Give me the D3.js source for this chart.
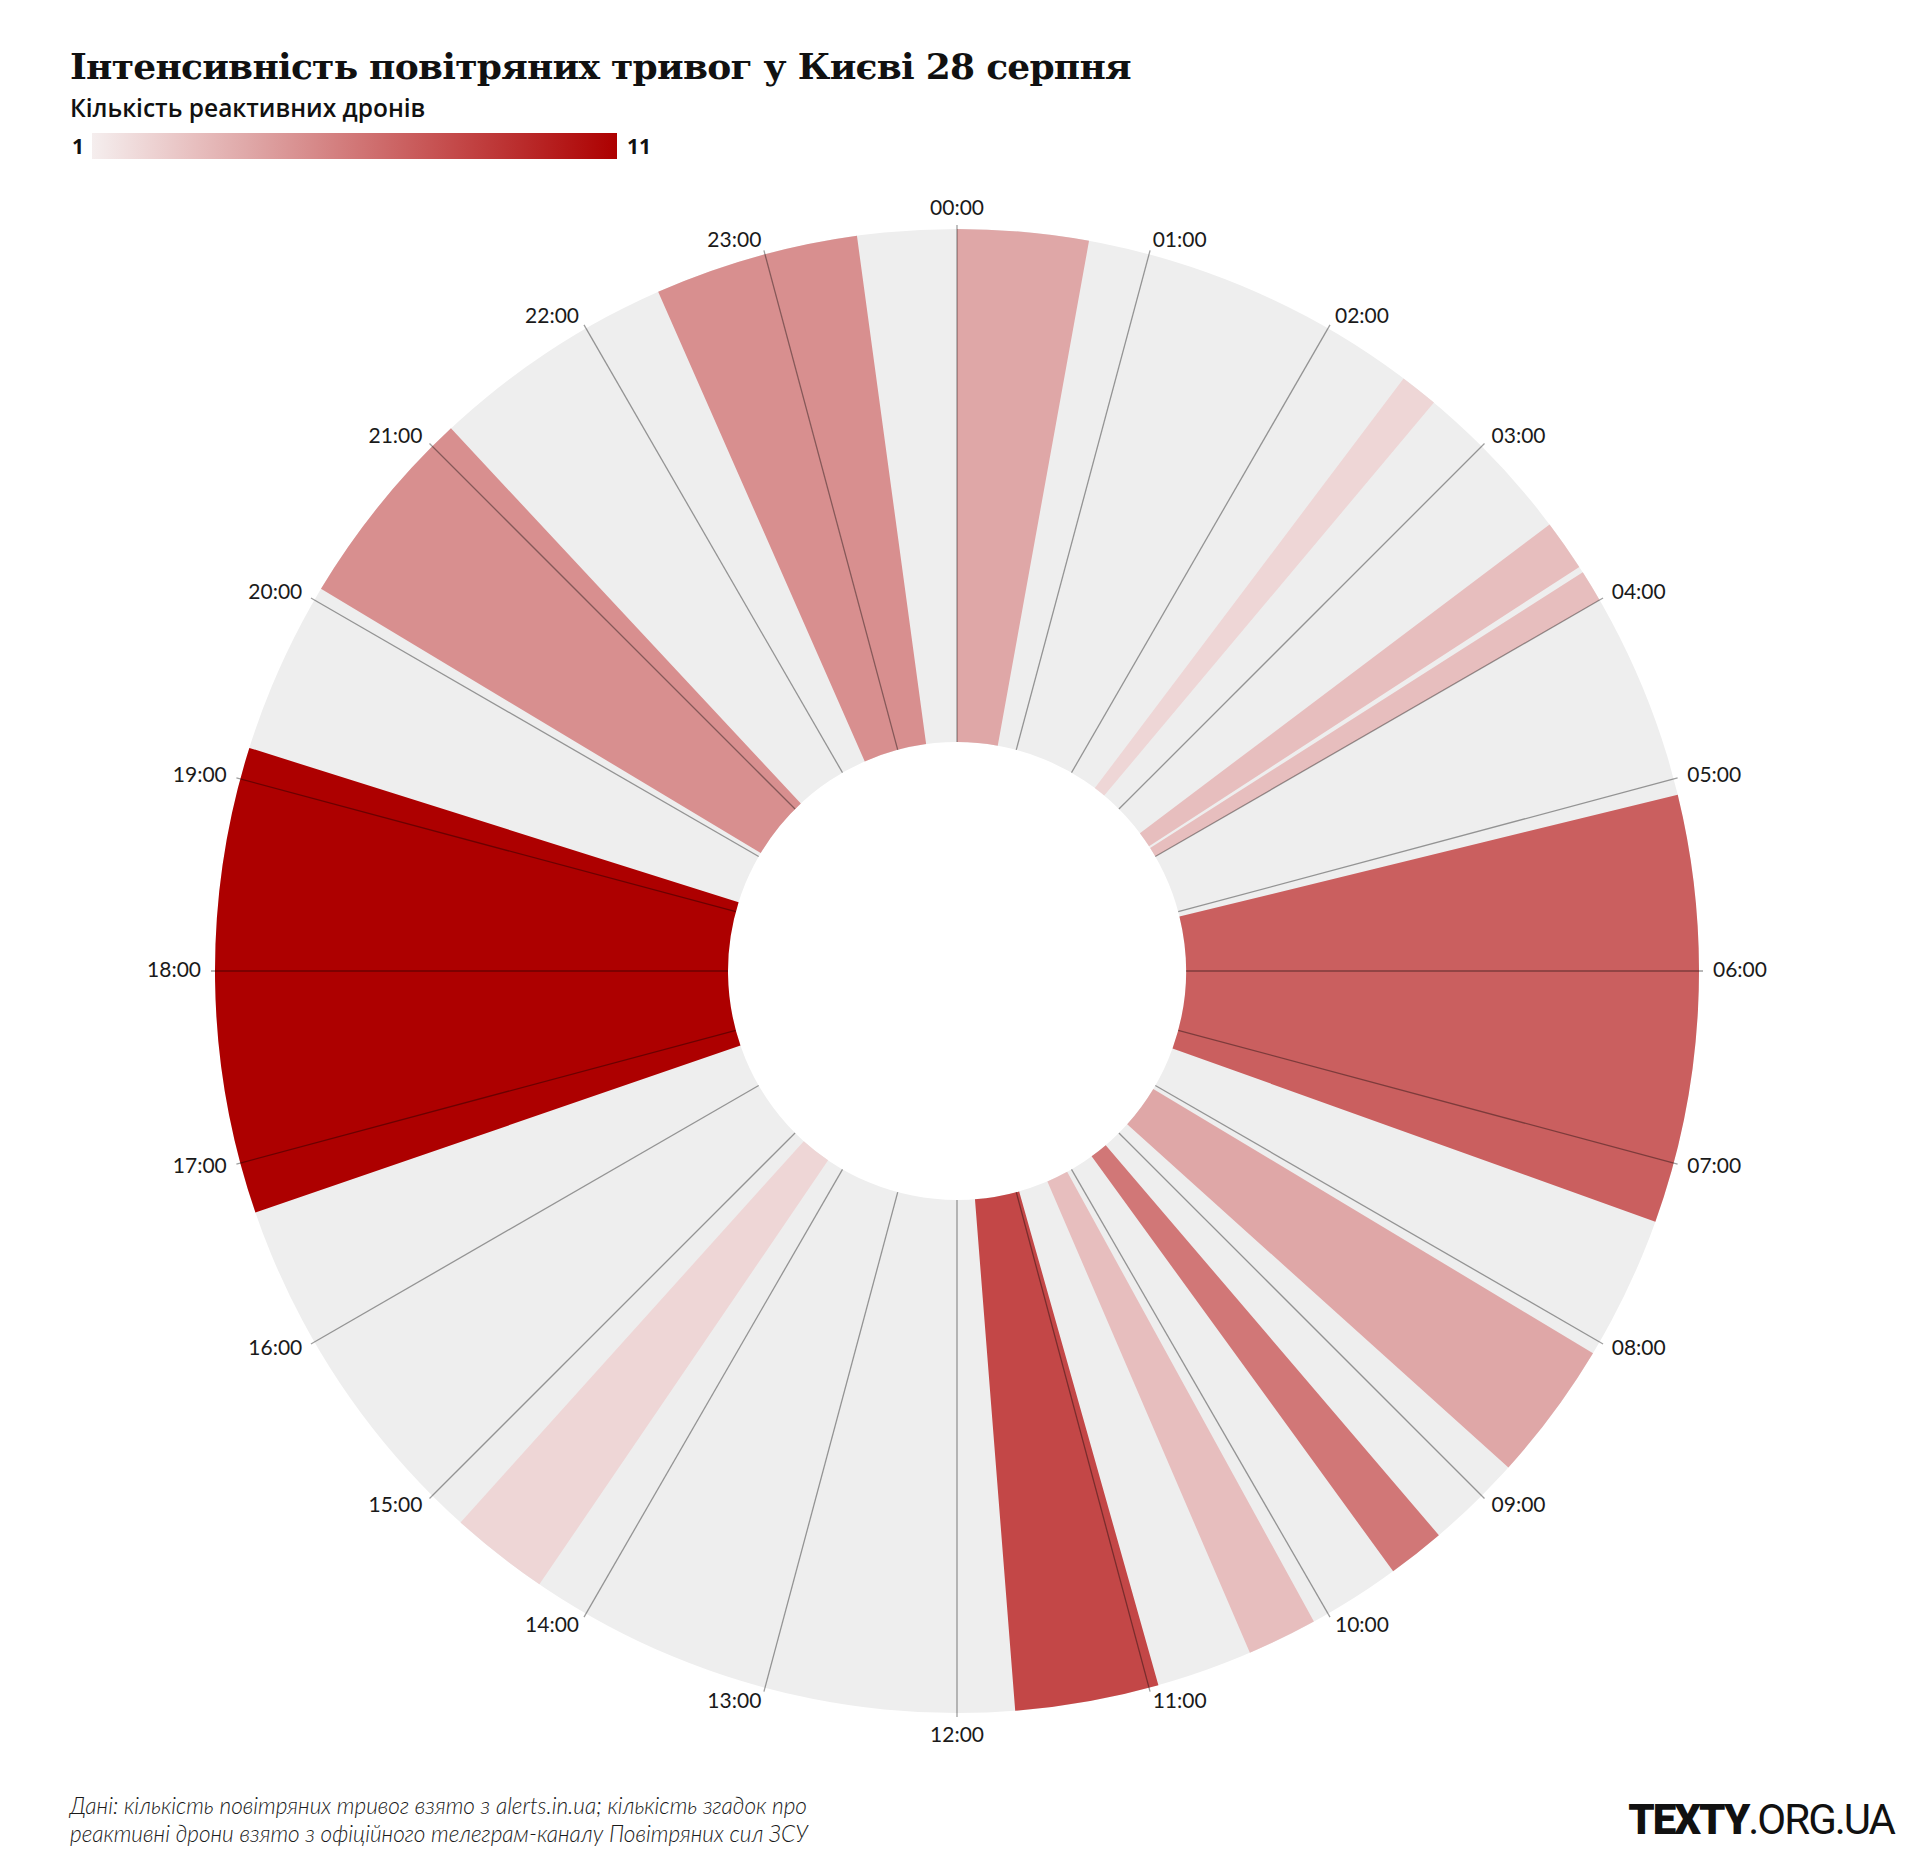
<!DOCTYPE html>
<html>
<head>
<meta charset="utf-8">
<script src="https://cdn.jsdelivr.net/npm/d3@7"></script>
<style>
  html, body { margin: 0; padding: 0; background: #fff; }
  svg { display: block; }
</style>
</head>
<body>
<svg id="chart" width="1920" height="1875"></svg>
<script>
// ---------- DATA ----------
const titleText = "Інтенсивність повітряних тривог у Києві 28 серпня";
const legendTitle = "Кількість реактивних дронів";
const legendMin = 1;
const legendMax = 11;

const hourLabels = ["00:00","01:00","02:00","03:00","04:00","05:00","06:00","07:00",
  "08:00","09:00","10:00","11:00","12:00","13:00","14:00","15:00","16:00","17:00",
  "18:00","19:00","20:00","21:00","22:00","23:00"];

// air-alert periods (grey ring)
const alertStarts = ["00:00"];
const alertEnds   = ["24:00"];

// periods with jet-drone mentions, coloured by number of drones
const droneStarts = ["00:00","02:28","03:32","03:50","05:05","08:04","09:18","10:05","10:57","14:17","16:44","20:04","22:25"];
const droneEnds   = ["00:41","02:40","03:48","04:00","07:19","08:48","09:36","10:27","11:42","14:48","19:10","21:08","23:29"];
const droneCounts = [4, 2, 3, 3, 7, 4, 6, 3, 8, 2, 11, 5, 5];

const footerLines = [
  "Дані: кількість повітряних тривог взято з alerts.in.ua; кількість згадок про",
  "реактивні дрони взято з офіційного телеграм-каналу Повітряних сил ЗСУ"
];

// ---------- HELPERS ----------
const toMin = s => { const [h, m] = s.split(":").map(Number); return h * 60 + m; };

const svg = d3.select("#chart");
const cx = 957, cy = 971;
const innerR = 229, outerR = 742, labelR = 756;

const angle = d3.scaleLinear().domain([0, 1440]).range([0, 2 * Math.PI]);
const color = d3.scaleLinear().domain([legendMin, legendMax]).range(["#f5eeee", "#ad0000"]);

const arc = d3.arc().innerRadius(innerR).outerRadius(outerR);

const g = svg.append("g").attr("transform", `translate(${cx},${cy})`);

// grey alert ring
g.selectAll("path.alert")
  .data(alertStarts.map((s, i) => ({ s: toMin(s), e: toMin(alertEnds[i]) })))
  .join("path")
  .attr("class", "alert")
  .attr("d", d => arc({ startAngle: angle(d.s), endAngle: angle(d.e) }))
  .attr("fill", "#eeeeee");

// drone wedges
g.selectAll("path.drone")
  .data(droneStarts.map((s, i) => ({ s: toMin(s), e: toMin(droneEnds[i]), v: droneCounts[i] })))
  .join("path")
  .attr("class", "drone")
  .attr("d", d => arc({ startAngle: angle(d.s), endAngle: angle(d.e) }))
  .attr("fill", d => color(d.v));

// hour lines
const hourData = hourLabels.map(l => ({ label: l, a: angle(toMin(l)) }));
g.selectAll("line.hour")
  .data(hourData)
  .join("line")
  .attr("class", "hour")
  .attr("x1", d => innerR * Math.sin(d.a))
  .attr("y1", d => -innerR * Math.cos(d.a))
  .attr("x2", d => (outerR + 4) * Math.sin(d.a))
  .attr("y2", d => -(outerR + 4) * Math.cos(d.a))
  .attr("stroke", "#000")
  .attr("stroke-opacity", 0.38)
  .attr("stroke-width", 1.3);

// hour labels
g.selectAll("text.hour")
  .data(hourData)
  .join("text")
  .attr("class", "hour")
  .attr("x", d => labelR * Math.sin(d.a))
  .attr("y", d => -labelR * Math.cos(d.a))
  .attr("dy", d => {
    const c = Math.cos(d.a);
    if (c > 0.99) return "0em";
    if (c < -0.99) return "0.72em";
    return "0.3em";
  })
  .attr("text-anchor", d => {
    const s = Math.sin(d.a);
    return Math.abs(s) < 0.01 ? "middle" : (s > 0 ? "start" : "end");
  })
  .attr("font-family", "Lato, 'Open Sans', sans-serif")
  .attr("font-size", 21)
  .attr("fill", "#1a1a1a")
  .text(d => d.label);

// ---------- TITLE & LEGEND ----------
svg.append("text")
  .attr("x", 70).attr("y", 79)
  .attr("font-family", "'DejaVu Serif', 'Liberation Serif', serif")
  .attr("font-weight", 700)
  .attr("font-size", 36)
  .attr("letter-spacing", -0.75)
  .attr("fill", "#111")
  .text(titleText);

svg.append("text")
  .attr("x", 70).attr("y", 117)
  .attr("font-family", "'Open Sans', sans-serif")
  .attr("font-weight", 600)
  .attr("font-size", 24.5)
  .attr("fill", "#111")
  .text(legendTitle);

const defs = svg.append("defs");
const grad = defs.append("linearGradient").attr("id", "legendGrad")
  .attr("x1", "0%").attr("x2", "100%").attr("y1", "0%").attr("y2", "0%");
d3.range(0, 11).forEach(i => {
  const v = legendMin + (legendMax - legendMin) * i / 10;
  grad.append("stop").attr("offset", (i * 10) + "%").attr("stop-color", color(v));
});

const legendX = d3.scaleLinear().domain([legendMin, legendMax]).range([92, 617]);
svg.append("rect")
  .attr("x", legendX(legendMin)).attr("y", 133)
  .attr("width", legendX(legendMax) - legendX(legendMin)).attr("height", 26)
  .attr("fill", "url(#legendGrad)");

svg.append("text")
  .attr("x", legendX(legendMin) - 8).attr("y", 147).attr("dy", "0.35em")
  .attr("text-anchor", "end")
  .attr("font-family", "'Open Sans', sans-serif")
  .attr("font-weight", 700).attr("font-size", 21).attr("fill", "#111")
  .text(legendMin);
svg.append("text")
  .attr("x", legendX(legendMax) + 10).attr("y", 147).attr("dy", "0.35em")
  .attr("font-family", "'Open Sans', sans-serif")
  .attr("font-weight", 700).attr("font-size", 21).attr("fill", "#111")
  .text(legendMax);

// ---------- FOOTER ----------
svg.append("g").selectAll("text")
  .data(footerLines)
  .join("text")
  .attr("x", 70)
  .attr("y", (d, i) => 1814 + i * 28)
  .attr("font-family", "Lato, 'Open Sans', sans-serif")
  .attr("font-style", "italic")
  .attr("font-weight", 300)
  .attr("font-size", 22.6)
  .attr("fill", "#1a1a1a")
  .text(d => d);

const brand = svg.append("text")
  .attr("x", 1894).attr("y", 1834)
  .attr("text-anchor", "end")
  .attr("font-family", "Roboto, 'Open Sans', sans-serif")
  .attr("font-size", 42)
  .attr("fill", "#111")
  .attr("letter-spacing", -2);
brand.append("tspan").attr("font-weight", 900).text("TEXTY");
brand.append("tspan").attr("font-weight", 400).text(".ORG.UA");
</script>
</body>
</html>
